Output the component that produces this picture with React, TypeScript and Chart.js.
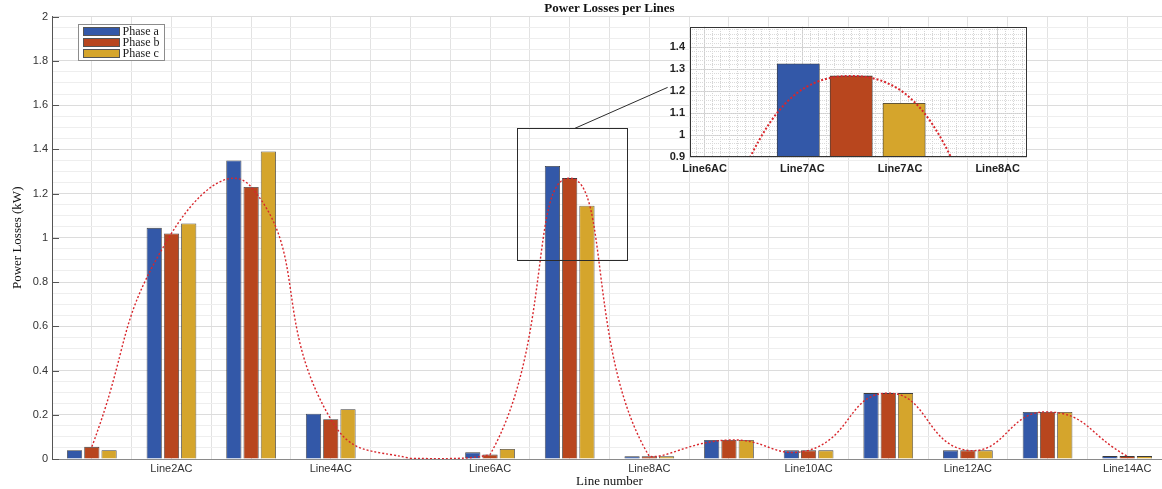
import React, { useEffect, useRef } from 'react';
import { Chart, registerables } from 'chart.js';

Chart.register(...registerables);

// ---- data ----
const categories = [
  'Line1AC', 'Line2AC', 'Line3AC', 'Line4AC', 'Line5AC', 'Line6AC', 'Line7AC',
  'Line8AC', 'Line9AC', 'Line10AC', 'Line11AC', 'Line12AC', 'Line13AC', 'Line14AC',
];
const phaseA = [0.04, 1.045, 1.35, 0.205, 0.003, 0.03, 1.325, 0.012, 0.086, 0.039, 0.298, 0.039, 0.213, 0.013];
const phaseB = [0.055, 1.02, 1.23, 0.18, 0.003, 0.02, 1.27, 0.012, 0.086, 0.039, 0.298, 0.039, 0.213, 0.013];
const phaseC = [0.04, 1.065, 1.39, 0.225, 0.003, 0.045, 1.145, 0.012, 0.086, 0.039, 0.298, 0.039, 0.213, 0.013];
const seriesLabels = ['Phase a', 'Phase b', 'Phase c'];
const yTickStep = 0.2;
const yMax = 2;

// inset (zoomed view) range, in data units
const insetXMin = 6.34;
const insetXMax = 7.72;
const insetYMin = 0.9;
const insetYMax = 1.495;
// connector end point (data units of main chart)
const connectorEnd = [8.23, 1.68];

const COLORS = ['#3358a8', '#b8461e', '#d5a52c'];
const SANS = '"Liberation Sans", Arial, Helvetica, sans-serif';
const SERIF = '"Liberation Serif", "Times New Roman", serif';
const TENSION = 0.5;

const fmt = (v: any) => String(+Number(v).toFixed(2));

const legendPlugin = {
  id: 'boxLegend',
  afterDraw(chart: any) {
    const { ctx, chartArea } = chart;
    const bars = chart.data.datasets.filter((d: any) => (d.type ?? 'bar') === 'bar');
    const x0 = Math.round(chartArea.left + 26) + 0.5;
    const y0 = Math.round(chartArea.top + 7) + 0.5;
    const rowH = 11;
    const w = 86;
    const h = bars.length * rowH + 3;
    ctx.save();
    ctx.fillStyle = '#ffffff';
    ctx.fillRect(x0, y0, w, h);
    ctx.strokeStyle = '#8c8c8c';
    ctx.lineWidth = 1;
    ctx.strokeRect(x0, y0, w, h);
    ctx.font = `12px ${SERIF}`;
    ctx.textBaseline = 'middle';
    bars.forEach((d: any, i: number) => {
      const cy = y0 + 7 + i * rowH;
      ctx.fillStyle = d.backgroundColor;
      ctx.fillRect(x0 + 5, cy - 4, 36, 8);
      ctx.strokeStyle = '#555';
      ctx.strokeRect(x0 + 5, cy - 4, 36, 8);
      ctx.fillStyle = '#1a1a1a';
      ctx.fillText(d.label, x0 + 44, cy + 0.5);
    });
    ctx.restore();
  },
};

// short inward tick marks on the y axis (MATLAB style)
const inwardTicksPlugin = {
  id: 'inwardTicks',
  afterDraw(chart: any) {
    const { ctx, chartArea } = chart;
    const ys = chart.scales.y;
    ctx.save();
    ctx.strokeStyle = '#555';
    ctx.lineWidth = 1;
    ctx.beginPath();
    ys.ticks.forEach((_t: any, i: number) => {
      const py = Math.round(ys.getPixelForTick(i)) + 0.5;
      ctx.moveTo(chartArea.left, py);
      ctx.lineTo(chartArea.left + 7, py);
    });
    ctx.stroke();
    ctx.restore();
  },
};

const zoomBoxPlugin = {
  id: 'zoomBox',
  afterDatasetsDraw(chart: any) {
    const { ctx } = chart;
    const xs = chart.scales.x2;
    const ys = chart.scales.y;
    const l = Math.round(xs.getPixelForValue(insetXMin)) + 0.5;
    const r = Math.round(xs.getPixelForValue(insetXMax)) + 0.5;
    const t = Math.round(ys.getPixelForValue(insetYMax)) + 0.5;
    const b = Math.round(ys.getPixelForValue(insetYMin)) + 0.5;
    ctx.save();
    ctx.strokeStyle = '#2b2b2b';
    ctx.lineWidth = 1;
    ctx.strokeRect(l, t, r - l, b - t);
    ctx.beginPath();
    ctx.moveTo((l + r) / 2 + 2, t);
    ctx.lineTo(xs.getPixelForValue(connectorEnd[0]), ys.getPixelForValue(connectorEnd[1]));
    ctx.stroke();
    ctx.restore();
  },
};

const whiteAreaPlugin = {
  id: 'whiteArea',
  beforeDraw(chart: any) {
    const { ctx, chartArea } = chart;
    ctx.save();
    ctx.fillStyle = '#ffffff';
    ctx.fillRect(chartArea.left, chartArea.top, chartArea.right - chartArea.left, chartArea.bottom - chartArea.top);
    ctx.restore();
  },
};

const framePlugin = {
  id: 'frame',
  afterDraw(chart: any) {
    const { ctx, chartArea } = chart;
    ctx.save();
    ctx.strokeStyle = '#333';
    ctx.lineWidth = 1;
    ctx.strokeRect(
      Math.round(chartArea.left) + 0.5,
      Math.round(chartArea.top) + 0.5,
      Math.round(chartArea.right - chartArea.left) - 1,
      Math.round(chartArea.bottom - chartArea.top) - 1,
    );
    ctx.restore();
  },
};

export default function App() {
  const mainRef = useRef<HTMLCanvasElement | null>(null);
  const insetRef = useRef<HTMLCanvasElement | null>(null);

  useEffect(() => {
    if (!mainRef.current || !insetRef.current) return;
    const barCommon = {
      borderColor: '#3c3c3c',
      borderWidth: 0.8,
      categoryPercentage: 0.65,
      barPercentage: 0.88,
      order: 1,
    };
    const main = new Chart(mainRef.current, {
      type: 'bar',
      data: {
        labels: categories,
        datasets: [
          { label: seriesLabels[0], data: phaseA, backgroundColor: COLORS[0], ...barCommon },
          { label: seriesLabels[1], data: phaseB, backgroundColor: COLORS[1], ...barCommon },
          { label: seriesLabels[2], data: phaseC, backgroundColor: COLORS[2], ...barCommon },
          {
            type: 'line',
            label: 'fit',
            data: phaseB,
            borderColor: '#d8262c',
            borderWidth: 1.4,
            borderDash: [2, 2],
            pointRadius: 0,
            tension: TENSION,
            fill: false,
            order: 0,
          } as any,
        ],
      },
      options: {
        responsive: false,
        animation: false,
        layout: { padding: { left: 0, right: 13, top: 0, bottom: 0 } },
        plugins: {
          legend: { display: false },
          tooltip: { enabled: false },
          title: {
            display: true,
            text: 'Power Losses per Lines',
            fullSize: false,
            color: '#111',
            font: { family: SERIF, size: 13, weight: 'bold' },
            padding: { top: 1, bottom: 0 },
          },
        },
        scales: {
          x: {
            type: 'category',
            offset: true,
            grid: { display: false, drawTicks: false },
            border: { display: true, color: '#8a8a8a' },
            ticks: {
              autoSkip: false,
              maxRotation: 0,
              padding: 3,
              color: '#333',
              font: { family: SANS, size: 11 },
              callback: (_v: any, i: number) => (i % 2 === 1 ? categories[i] : ''),
            },
            title: {
              display: true,
              text: 'Line number',
              color: '#111',
              font: { family: SERIF, size: 13 },
              padding: { top: 0, bottom: 0 },
            },
            afterFit: (s: any) => { s.height = 30; },
          },
          x2: {
            type: 'linear',
            position: 'top',
            offset: false,
            min: 0.5,
            max: categories.length + 0.5,
            ticks: { display: false, stepSize: 0.5 },
            grid: { color: '#e2e2e2', drawTicks: false, offset: false },
            border: { display: false },
            afterFit: (s: any) => { s.height = 0; },
          },
          y: {
            type: 'linear',
            min: 0,
            max: yMax,
            ticks: {
              stepSize: yTickStep,
              padding: 4,
              color: '#333',
              font: { family: SANS, size: 11 },
              callback: fmt,
            },
            grid: { color: '#dcdcdc', drawTicks: false },
            border: { display: true, color: '#555' },
            title: {
              display: true,
              text: 'Power Losses (kW)',
              color: '#111',
              font: { family: SERIF, size: 13 },
              padding: { top: 10, bottom: 0 },
            },
            afterFit: (s: any) => { s.width = 52; },
          },
          y2: {
            type: 'linear',
            position: 'right',
            min: 0,
            max: yMax,
            ticks: { display: false, stepSize: 0.05 },
            grid: {
              drawTicks: false,
              color: (c: any) => {
                const v = c.tick ? c.tick.value : 0;
                const q = v / yTickStep;
                return Math.abs(q - Math.round(q)) < 1e-6 ? 'rgba(0,0,0,0)' : '#eeeeee';
              },
            },
            border: { display: false },
            afterFit: (s: any) => { s.width = 0; },
          },
        },
      } as any,
      plugins: [zoomBoxPlugin, inwardTicksPlugin, legendPlugin],
    });

    const xy = (arr: number[]) => arr.map((v, i) => ({ x: i + 1, y: v }));
    const insetBar = {
      borderColor: '#3c3c3c',
      borderWidth: 0.8,
      barThickness: 'flex',
      categoryPercentage: 0.65,
      barPercentage: 0.8,
      order: 1,
    };
    const inset = new Chart(insetRef.current, {
      type: 'bar',
      data: {
        datasets: [
          { label: seriesLabels[0], data: xy(phaseA), backgroundColor: COLORS[0], ...insetBar },
          { label: seriesLabels[1], data: xy(phaseB), backgroundColor: COLORS[1], ...insetBar },
          { label: seriesLabels[2], data: xy(phaseC), backgroundColor: COLORS[2], ...insetBar },
          {
            type: 'line',
            label: 'fit',
            data: xy(phaseB),
            borderColor: '#d8262c',
            borderWidth: 2,
            borderDash: [2, 2],
            pointRadius: 0,
            tension: TENSION,
            fill: false,
            order: 0,
          } as any,
        ],
      },
      options: {
        responsive: false,
        animation: false,
        layout: { padding: { left: 0, right: 13, top: 10, bottom: 0 } },
        plugins: { legend: { display: false }, tooltip: { enabled: false }, title: { display: false } },
        scales: {
          x: {
            type: 'linear',
            offset: false,
            min: insetXMin,
            max: insetXMax,
            ticks: {
              stepSize: 0.4,
              includeBounds: false,
              padding: 5,
              color: '#222',
              font: { family: SANS, size: 11, weight: 'bold' },
              callback: (v: any) => categories[Math.round(v) - 1],
            },
            grid: { color: '#cfcfcf', drawTicks: false, offset: false },
            border: { display: false },
            afterFit: (s: any) => { s.height = 28; },
          },
          xg: {
            type: 'linear',
            position: 'top',
            offset: false,
            min: insetXMin,
            max: insetXMax,
            ticks: { display: false, stepSize: 1 / 30, includeBounds: false },
            grid: { color: '#d4d4d4', drawTicks: false, offset: false },
            border: { display: false, dash: [1, 1] },
            afterFit: (s: any) => { s.height = 0; },
          },
          y: {
            type: 'linear',
            min: insetYMin,
            max: insetYMax,
            ticks: {
              stepSize: 0.1,
              includeBounds: false,
              padding: 5,
              color: '#222',
              font: { family: SANS, size: 11, weight: 'bold' },
              callback: fmt,
            },
            grid: { color: '#cfcfcf', drawTicks: false },
            border: { display: false },
            afterFit: (s: any) => { s.width = 35; },
          },
          yg: {
            type: 'linear',
            position: 'right',
            min: insetYMin,
            max: insetYMax,
            ticks: { display: false, stepSize: 0.02, includeBounds: false },
            grid: { color: '#dadada', drawTicks: false },
            border: { display: false, dash: [1, 1] },
            afterFit: (s: any) => { s.width = 0; },
          },
        },
      } as any,
      plugins: [whiteAreaPlugin, framePlugin],
    });

    return () => {
      main.destroy();
      inset.destroy();
    };
  }, []);

  return (
    <div
      style={{
        position: 'absolute',
        left: 0,
        top: 0,
        width: 1162,
        height: 489,
        overflow: 'hidden',
        background: '#ffffff',
      }}
    >
      <canvas ref={mainRef} width={1180} height={489} style={{ position: 'absolute', left: 0, top: 0 }} />
      <canvas ref={insetRef} width={385} height={170} style={{ position: 'absolute', left: 655, top: 15 }} />
    </div>
  );
}
